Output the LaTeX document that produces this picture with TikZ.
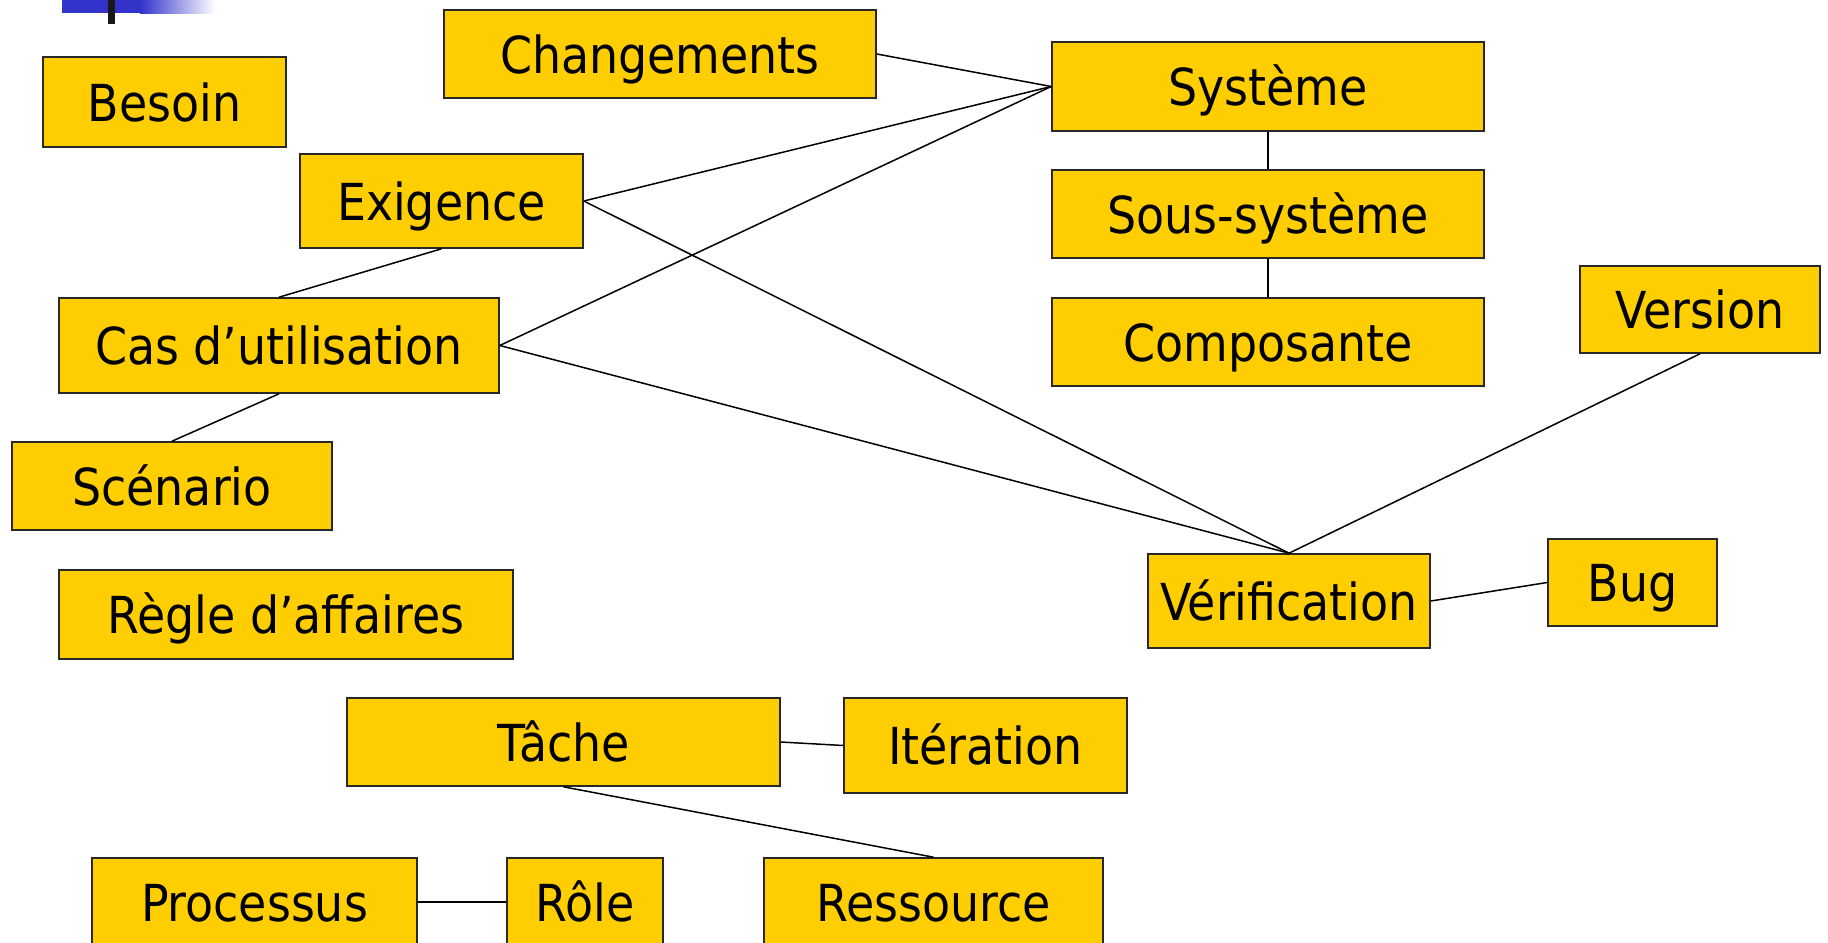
\documentclass[tikz,border=0pt]{standalone}
\usepackage{fontspec}
\setmainfont{DejaVu Sans Condensed}
\definecolor{boxfill}{RGB}{255,206,0}
\definecolor{boxline}{RGB}{40,40,40}
\definecolor{barblue}{RGB}{51,51,204}
\begin{document}
\begin{tikzpicture}[x=0.5pt,y=-0.5pt,
  ent/.style={draw=boxline,fill=boxfill,line width=0.8pt,inner sep=0pt,
    font=\fontsize{25.5}{30}\selectfont,text=black,
    text height=19pt,text depth=0pt},
  link/.style={draw=black,line width=0.75pt}]
\useasboundingbox (0,0) rectangle (1828,943);
% title bar fragment
\fill[barblue] (62,0) rectangle (140,13);
\shade[left color=barblue,right color=white] (140,0) rectangle (215,13);
\fill[black!90] (108,0) rectangle (115,24);
% entities
\node[ent,minimum width=121.5pt,minimum height=45pt] (besoin) at (164.5,102) {Besoin};
\node[ent,minimum width=216pt,minimum height=44pt] (chg) at (660,54) {Changements};
\node[ent,minimum width=216pt,minimum height=44.5pt] (sys) at (1268,86.5) {Système};
\node[ent,minimum width=141.5pt,minimum height=47pt] (exi) at (441.5,201) {Exigence};
\node[ent,minimum width=216pt,minimum height=44pt] (ssys) at (1268,214) {Sous-système};
\node[ent,minimum width=220pt,minimum height=47.5pt] (cas) at (279,345.5) {Cas d’utilisation};
\node[ent,minimum width=216pt,minimum height=44pt] (comp) at (1268,342) {Composante};
\node[ent,minimum width=120pt,minimum height=43.5pt] (ver) at (1700,309.5) {Version};
\node[ent,minimum width=160pt,minimum height=44pt] (scen) at (172,486) {Scénario};
\node[ent,minimum width=141pt,minimum height=47pt] (verif) at (1289,601) {Vérification};
\node[ent,minimum width=84.5pt,minimum height=43.5pt] (bug) at (1632.5,582.5) {Bug};
\node[ent,minimum width=227pt,minimum height=44.5pt] (regle) at (286,614.5) {Règle d’affaires};
\node[ent,minimum width=216.5pt,minimum height=44pt] (tache) at (563.5,742) {Tâche};
\node[ent,minimum width=141.5pt,minimum height=47.5pt] (iter) at (985.5,745.5) {Itération};
\node[ent,minimum width=162.5pt,minimum height=44pt] (proc) at (254.5,902) {Processus};
\node[ent,minimum width=78pt,minimum height=44pt] (role) at (585,902) {Rôle};
\node[ent,minimum width=169.5pt,minimum height=44pt] (res) at (933.5,902) {Ressource};
% relations
\draw[link] (chg.east) -- (sys.west);
\draw[link] (exi.east) -- (sys.west);
\draw[link] (cas.east) -- (sys.west);
\draw[link] (sys.south) -- (ssys.north);
\draw[link] (ssys.south) -- (comp.north);
\draw[link] (exi.south) -- (cas.north);
\draw[link] (cas.south) -- (scen.north);
\draw[link] (exi.east) -- (verif.north);
\draw[link] (cas.east) -- (verif.north);
\draw[link] (ver.south) -- (verif.north);
\draw[link] (verif.east) -- (bug.west);
\draw[link] (tache.east) -- (iter.west);
\draw[link] (tache.south) -- (res.north);
\draw[link] (proc.east) -- (role.west);
\end{tikzpicture}
\end{document}
